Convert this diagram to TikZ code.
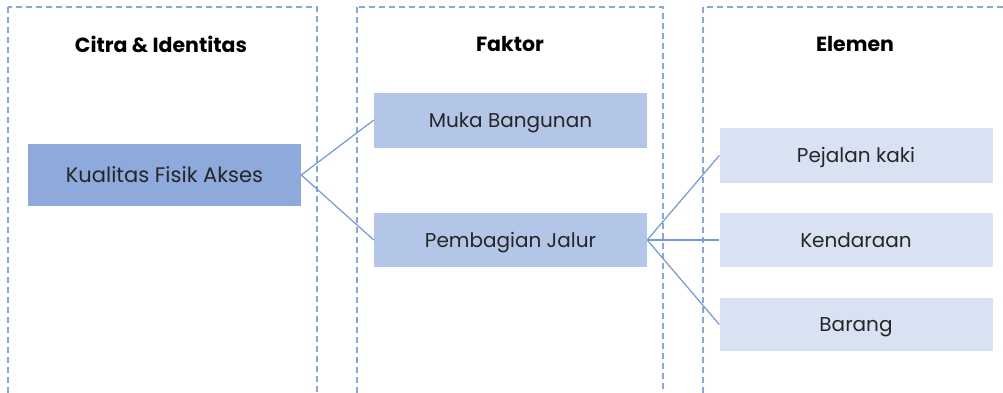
\documentclass[tikz,border=0pt]{standalone}
\usepackage{fontspec}
\setmainfont{Poppins}
\definecolor{darkbox}{HTML}{8EA9DB}
\definecolor{midbox}{HTML}{B4C6E7}
\definecolor{lightbox}{HTML}{D9E2F3}
\definecolor{linec}{HTML}{7399DC}
\definecolor{dashc}{HTML}{87A6E0}
\definecolor{txt}{HTML}{262626}
\begin{document}
\begin{tikzpicture}[x=1pt,y=-1pt,
  colframe/.style={draw=dashc,line width=1.1pt,dash pattern=on 6pt off 4pt},
  heading/.style={font=\fontsize{20.5}{24}\selectfont\bfseries,text=black,anchor=center},
  card/.style={minimum width=273pt,minimum height=55pt,inner sep=0pt,text=txt,font=\fontsize{20}{24}\selectfont,text height=14pt,text depth=0pt},
  conn/.style={draw=linec,line width=1.2pt}]
\useasboundingbox (0,0) rectangle (1003,392);
\clip (0,0) rectangle (1003,392);
\fill[white] (0,0) rectangle (1003,392);
% column frames
\draw[colframe] (8,7) rectangle (317,420);
\draw[colframe] (357,7) rectangle (663,420);
\draw[colframe] (703,7) rectangle (1030,420);
% headings
\node[heading] (h1) at (161,44) {Citra \& Identitas};
\node[heading] (h2) at (510,44) {Faktor};
\node[heading] (h3) at (855,44) {Elemen};
% boxes
\node[card,fill=darkbox,minimum height=62pt,font=\fontsize{21}{25}\selectfont,text height=15pt] (kfa) at (164.5,175) {Kualitas Fisik Akses};
\node[card,fill=midbox] (mb) at (510.5,120) {Muka Bangunan};
\node[card,fill=midbox,minimum height=54pt] (pj) at (510.5,240) {Pembagian Jalur};
\node[card,fill=lightbox] (pk) at (856,155.5) {Pejalan kaki};
\node[card,fill=lightbox,minimum height=54pt] (kd) at (856,240) {Kendaraan};
\node[card,fill=lightbox,minimum height=53pt] (br) at (856,324.5) {Barang};
% connectors
\draw[conn] (kfa.east) -- (mb.west);
\draw[conn] (kfa.east) -- (pj.west);
\draw[conn] (pj.east) -- (pk.west);
\draw[conn] (pj.east) -- (kd.west);
\draw[conn] (pj.east) -- (br.west);
\end{tikzpicture}
\end{document}
